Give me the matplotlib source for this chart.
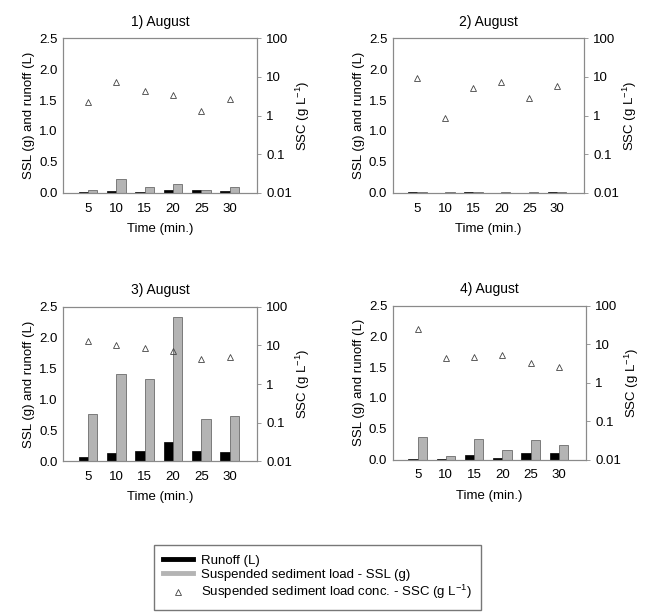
import numpy as np
import matplotlib
matplotlib.use('Agg')
import matplotlib.pyplot as plt
from matplotlib.lines import Line2D

plt.rcParams['font.family'] = ['Liberation Sans', 'DejaVu Sans']
plt.rcParams['mathtext.default'] = 'regular'

# time steps (min.)
times = [5, 10, 15, 20, 25, 30]
titles = ['1) August', '2) August', '3) August', '4) August']

# runoff (L)
runoff_1 = [0.02, 0.03, 0.02, 0.04, 0.04, 0.03]
runoff_2 = [0.005, 0.003, 0.005, 0.003, 0.004, 0.005]
runoff_3 = [0.065, 0.14, 0.17, 0.32, 0.16, 0.15]
runoff_4 = [0.01, 0.01, 0.075, 0.03, 0.10, 0.10]

# suspended sediment load SSL (g)
ssl_1 = [0.05, 0.22, 0.09, 0.14, 0.05, 0.09]
ssl_2 = [0.02, 0.01, 0.02, 0.01, 0.01, 0.02]
ssl_3 = [0.76, 1.42, 1.34, 2.34, 0.69, 0.74]
ssl_4 = [0.36, 0.065, 0.34, 0.15, 0.32, 0.24]

# suspended sediment concentration SSC (g/L)
ssc_1 = [2.3, 7.2, 4.2, 3.3, 1.33, 2.7]
ssc_2 = [9.4, 0.86, 5.3, 7.4, 2.8, 5.7]
ssc_3 = [13.0, 10.5, 8.5, 7.3, 4.4, 5.1]
ssc_4 = [24.7, 4.3, 4.5, 5.2, 3.2, 2.5]

runoffs = [runoff_1, runoff_2, runoff_3, runoff_4]
ssls = [ssl_1, ssl_2, ssl_3, ssl_4]
sscs = [ssc_1, ssc_2, ssc_3, ssc_4]

fig = plt.figure(figsize=(6.45, 6.16), dpi=100)

boxes = [
    [0.098, 0.687, 0.300, 0.251],
    [0.609, 0.687, 0.296, 0.251],
    [0.098, 0.251, 0.300, 0.251],
    [0.609, 0.254, 0.299, 0.250],
]

spine_col = '#8a8a8a'
fs = 9.5
x = np.arange(len(times))
w = 0.33

for i in range(4):
    ax = fig.add_axes(boxes[i])
    ax.bar(x - w / 2, runoffs[i], width=w, color='black', edgecolor='black', linewidth=0.5)
    ax.bar(x + w / 2, ssls[i], width=w, color='#b4b4b4', edgecolor='#555555', linewidth=0.5)
    ax.set_xlim(-0.88, 5.95)
    ax.set_ylim(0, 2.5)
    ax.set_yticks([0, 0.5, 1.0, 1.5, 2.0, 2.5])
    ax.set_yticklabels(['0.0', '0.5', '1.0', '1.5', '2.0', '2.5'])
    ax.set_xticks(x)
    ax.set_xticklabels([str(t) for t in times])
    ax.tick_params(axis='x', length=0, labelsize=fs, pad=7)
    ax.tick_params(axis='y', length=0, labelsize=fs, pad=4)
    ax.set_xlabel('Time (min.)', fontsize=fs, labelpad=6)
    ax.set_ylabel('SSL (g) and runoff (L)', fontsize=fs, labelpad=3)
    ax.set_title(titles[i], fontsize=10, pad=9)
    for s in ax.spines.values():
        s.set_color(spine_col)
        s.set_linewidth(0.8)

    ax2 = ax.twinx()
    ax2.plot(x, sscs[i], linestyle='none', marker='^', markersize=5,
             markerfacecolor='none', markeredgecolor='#444444', markeredgewidth=0.6)
    ax2.set_yscale('log')
    ax2.set_ylim(0.01, 100)
    ax2.set_yticks([0.01, 0.1, 1, 10, 100])
    ax2.set_yticklabels(['0.01', '0.1', '1', '10', '100'])
    ax2.minorticks_off()
    ax2.tick_params(axis='y', direction='out', length=3, width=0.6, color=spine_col,
                    labelsize=fs, pad=4)
    ax2.set_ylabel('SSC (g L$^{-1}$)', fontsize=fs, labelpad=1)
    for s in ax2.spines.values():
        s.set_color(spine_col)
        s.set_linewidth(0.8)

handles = [
    Line2D([0], [0], color='black', linewidth=3.5),
    Line2D([0], [0], color='#b4b4b4', linewidth=3.5),
    Line2D([0], [0], linestyle='none', marker='^', markersize=4,
           markerfacecolor='none', markeredgecolor='#444444', markeredgewidth=0.6),
]
labels = ['Runoff (L)', 'Suspended sediment load - SSL (g)',
          'Suspended sediment load conc. - SSC (g L$^{-1}$)']
fig.legend(handles, labels, loc='center', bbox_to_anchor=(0.492, 0.062),
           fontsize=9.5, frameon=True, fancybox=False, edgecolor='#555555',
           handlelength=2.3, handletextpad=0.6, labelspacing=0.15,
           borderpad=0.7, borderaxespad=0)

fig.savefig('out.png', dpi=100, facecolor='white')
